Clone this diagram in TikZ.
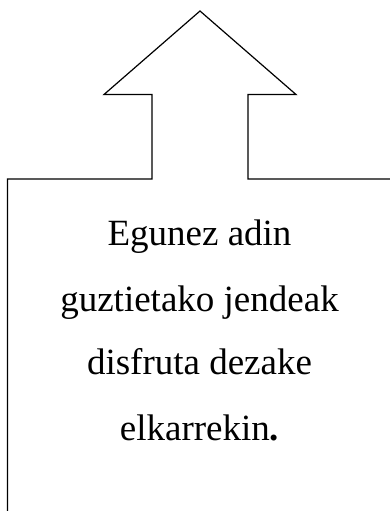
\documentclass[tikz,border=0pt]{standalone}
\usepackage{fontspec}
\setmainfont{Liberation Serif}
\begin{document}
\begin{tikzpicture}[x=1pt,y=-1pt,
  outline/.style={draw=black,line width=1.2pt,line join=miter},
  linetext/.style={anchor=base,inner sep=0pt,font=\fontsize{37}{44}\selectfont}]
\useasboundingbox (0,0) rectangle (390,511);
\clip (0,0) rectangle (390,511);
\draw[outline] (7.5,520) -- (7.5,179) -- (152,179) -- (152,94.5) -- (104,94.5)
  -- (200,11) -- (296,94.5) -- (248,94.5) -- (248,179) -- (400,179);
\node[linetext] (l1) at (199.5,245.7) {Egunez adin};
\node[linetext] (l2) at (199.5,311) {guztietako jendeak};
\node[linetext] (l3) at (199.5,374.3) {disfruta dezake};
\node[linetext] (l4) at (199.5,440) {elkarrekin\textbf{.}};
\end{tikzpicture}
\end{document}
